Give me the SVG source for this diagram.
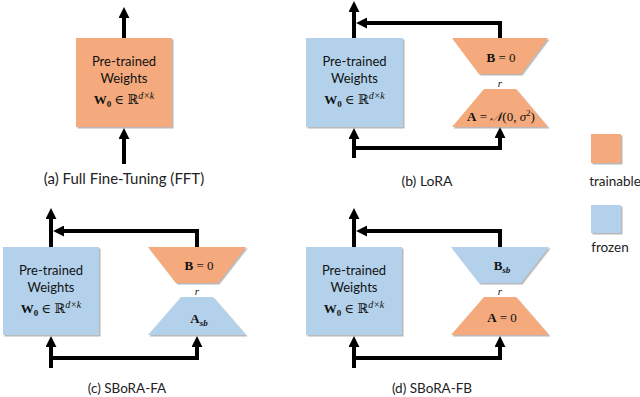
<svg xmlns="http://www.w3.org/2000/svg" width="640" height="397" viewBox="0 0 640 397">
<defs>
<style>
.tr{fill:#F4AA7B}
.fz{fill:#B3D1EB}
.lbl{font-family:Lato,"Open Sans",sans-serif;font-size:13px;fill:#111;text-anchor:middle}
.cap{font-family:Lato,"Open Sans",sans-serif;font-size:13.5px;fill:#222;text-anchor:middle}
.m{font-family:"Liberation Serif","DejaVu Serif",serif;font-size:13px;fill:#111;text-anchor:middle}
.b{font-weight:bold}
.it{font-style:italic}
.ln{fill:none;stroke:#000;stroke-width:4;stroke-linejoin:miter}
.ar{marker-end:url(#ah)}
.sh{filter:url(#sh)}
</style>
<marker id="ah" markerUnits="userSpaceOnUse" markerWidth="11" markerHeight="11" viewBox="0 0 10 10" refX="1" refY="5" orient="auto"><path d="M0,0 L10,5 L0,10 z" fill="#000"/></marker>
<filter id="sh" x="-10%" y="-10%" width="130%" height="130%"><feDropShadow dx="1.5" dy="1.5" stdDeviation="0.7" flood-color="#888" flood-opacity="0.6"/></filter>
</defs>

<g id="connectors">
<line class="ln ar" x1="124" y1="38" x2="124" y2="17"/>
<line class="ln ar" x1="124" y1="164" x2="124" y2="138"/>

<line class="ln ar" x1="354" y1="38" x2="354" y2="11"/>
<polyline class="ln ar" points="500,38 500,23 366,23"/>
<line class="ln ar" x1="354" y1="158" x2="354" y2="138"/>
<polyline class="ln ar" points="354,148 500,148 500,137"/>

<line class="ln ar" x1="51" y1="247" x2="51" y2="218"/>
<polyline class="ln ar" points="197,247 197,231 63,231"/>
<line class="ln ar" x1="51" y1="368" x2="51" y2="346"/>
<polyline class="ln ar" points="51,358 197,358 197,346"/>

<line class="ln ar" x1="354" y1="247" x2="354" y2="218"/>
<polyline class="ln ar" points="500,247 500,231 366,231"/>
<line class="ln ar" x1="354" y1="368" x2="354" y2="346"/>
<polyline class="ln ar" points="354,358 500,358 500,346"/>
</g>

<g id="a-weights">
<rect class="tr sh" x="76" y="38" width="96" height="89"/>
<text class="lbl" x="124" y="66">Pre-trained</text>
<text class="lbl" x="124" y="83">Weights</text>
<text class="m" x="124" y="104"><tspan class="b">W</tspan><tspan class="b" font-size="9" dy="3">0</tspan><tspan dy="-3"> ∈ ℝ</tspan><tspan class="it" font-size="10" dy="-5">d×k</tspan></text>
</g>
<g id="a-caption"><text class="cap" x="124" y="184" style="font-size:15px">(a) Full Fine-Tuning (FFT)</text></g>

<g id="b-weights">
<rect class="fz sh" x="306" y="38" width="97" height="89"/>
<text class="lbl" x="354.5" y="66">Pre-trained</text>
<text class="lbl" x="354.5" y="83">Weights</text>
<text class="m" x="354.5" y="104"><tspan class="b">W</tspan><tspan class="b" font-size="9" dy="3">0</tspan><tspan dy="-3"> ∈ ℝ</tspan><tspan class="it" font-size="10" dy="-5">d×k</tspan></text>
</g>
<g id="b-B">
<polygon class="tr sh" points="452,38 548,38 521,74 479,74"/>
<text class="m" x="501" y="62"><tspan class="b">B</tspan> = 0</text>
</g>
<g id="b-r"><text class="m it" x="500" y="87" style="font-size:11px">r</text></g>
<g id="b-A">
<polygon class="tr sh" points="484,89 516,89 548,127 452,127"/>
<text class="m" x="501" y="121"><tspan class="b">A</tspan> = <tspan class="it">𝒩</tspan>(0, <tspan class="it">σ</tspan><tspan font-size="9" dy="-5">2</tspan><tspan dy="5">)</tspan></text>
</g>
<g id="b-caption"><text class="cap" x="427" y="186" style="font-size:14px">(b) LoRA</text></g>

<g id="c-weights">
<rect class="fz sh" x="3" y="247" width="96" height="88"/>
<text class="lbl" x="51" y="275">Pre-trained</text>
<text class="lbl" x="51" y="292">Weights</text>
<text class="m" x="51" y="313"><tspan class="b">W</tspan><tspan class="b" font-size="9" dy="3">0</tspan><tspan dy="-3"> ∈ ℝ</tspan><tspan class="it" font-size="10" dy="-5">d×k</tspan></text>
</g>
<g id="c-B">
<polygon class="tr sh" points="148,247 246,247 218,283 176,283"/>
<text class="m" x="199" y="270"><tspan class="b">B</tspan> = 0</text>
</g>
<g id="c-r"><text class="m it" x="197" y="295" style="font-size:11px">r</text></g>
<g id="c-A">
<polygon class="fz sh" points="181,297 213,297 246,335 148,335"/>
<text class="m" x="199" y="323"><tspan class="b">A</tspan><tspan class="b it" font-size="9" dy="3">sb</tspan></text>
</g>
<g id="c-caption"><text class="cap" x="127" y="393">(c) SBoRA-FA</text></g>

<g id="d-weights">
<rect class="fz sh" x="306" y="247" width="96" height="88"/>
<text class="lbl" x="354" y="275">Pre-trained</text>
<text class="lbl" x="354" y="292">Weights</text>
<text class="m" x="354" y="313"><tspan class="b">W</tspan><tspan class="b" font-size="9" dy="3">0</tspan><tspan dy="-3"> ∈ ℝ</tspan><tspan class="it" font-size="10" dy="-5">d×k</tspan></text>
</g>
<g id="d-B">
<polygon class="fz sh" points="451,247 549,247 521,283 479,283"/>
<text class="m" x="502" y="270"><tspan class="b">B</tspan><tspan class="b it" font-size="9" dy="3">sb</tspan></text>
</g>
<g id="d-r"><text class="m it" x="500" y="295" style="font-size:11px">r</text></g>
<g id="d-A">
<polygon class="tr sh" points="484,297 516,297 549,335 451,335"/>
<text class="m" x="502" y="322"><tspan class="b">A</tspan> = 0</text>
</g>
<g id="d-caption"><text class="cap" x="432" y="393">(d) SBoRA-FB</text></g>

<g id="legend-trainable">
<rect class="tr sh" x="591" y="134" width="30" height="29"/>
<text class="cap" x="615" y="186">trainable</text>
</g>
<g id="legend-frozen">
<rect class="fz sh" x="591" y="205" width="30" height="28"/>
<text class="cap" x="610" y="252">frozen</text>
</g>
</svg>
